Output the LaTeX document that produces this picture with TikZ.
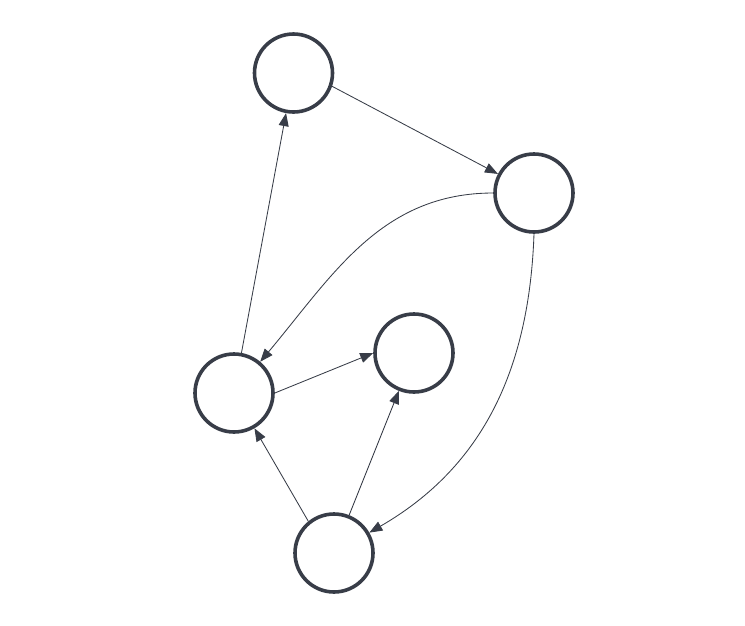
\documentclass[tikz,border=0pt]{standalone}
\usetikzlibrary{arrows.meta}
\definecolor{ink}{HTML}{383D48}
\begin{document}
\begin{tikzpicture}[x=1pt,y=-1pt,
  vert/.style={circle,draw=ink,line width=3.6pt,minimum size=78pt,inner sep=0pt},
  edge/.style={draw=ink,line width=0.85pt,-{Triangle[length=13pt,width=10pt]}}]
\useasboundingbox (0,0) rectangle (745,625);
\node[vert] (a) at (293.5,73) {};
\node[vert] (b) at (534,193) {};
\node[vert] (c) at (234,393) {};
\node[vert] (d) at (414,353) {};
\node[vert] (e) at (334,553) {};
\draw[edge] (a.-19) -- (b);
\draw[edge] (c) -- (a);
\draw[edge] (c.east) -- (d.west);
\draw[edge] (e.129) -- (c);
\draw[edge] (e) -- (d);
\draw[edge] (b.west) to[out=180,in=50] (c);
\draw[edge] (b.south) to[out=268,in=30] (e);
\end{tikzpicture}
\end{document}
